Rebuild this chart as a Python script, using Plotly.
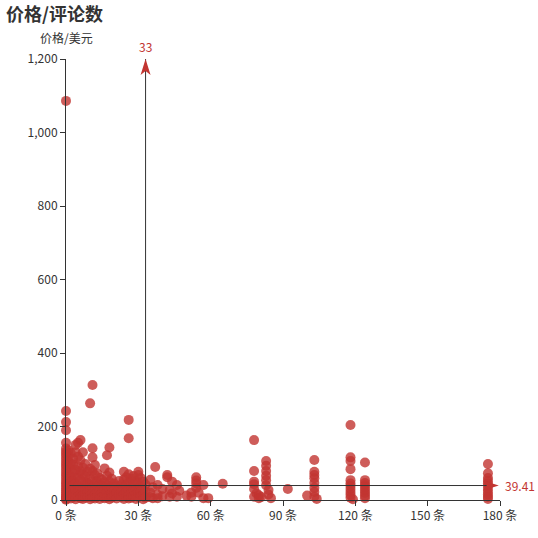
import plotly.graph_objects as go

# ---- data: (review count, price) ----
x_cols = {
    0: [1086, 242, 212, 190, 156, 140, 132, 125, 118, 110, 102, 95, 88, 80, 72, 65, 58, 50, 44, 38, 32, 26, 20, 15, 10, 6, 3, 1],
    1: [135, 120, 105, 90, 70, 55, 42, 30, 18, 8],
    2: [128, 100, 85, 62, 48, 35, 22, 12, 4],
    3: [112, 96, 75, 52, 40, 28, 16, 7],
    4: [150, 130, 82, 60, 45, 25, 11, 2],
    5: [156, 118, 92, 66, 38, 20, 9],
    6: [163, 108, 78, 56, 33, 14, 5],
    7: [130, 88, 70, 44, 27, 12, 3],
    8: [98, 64, 50, 30, 17, 6],
    9: [76, 46, 36, 22, 8],
    10: [263, 85, 58, 40, 24, 10, 2],
    11: [313, 141, 116, 79, 52, 34, 18, 6],
    12: [95, 68, 44, 28, 14, 4],
    13: [72, 50, 36, 20, 9],
    14: [60, 42, 25, 12, 3],
    15: [55, 38, 22, 8],
    16: [86, 48, 30, 15, 5],
    17: [122, 66, 40, 20, 7],
    18: [143, 75, 50, 32, 12, 2],
    19: [58, 35, 18, 6],
    20: [45, 28, 10],
    21: [38, 20, 4],
    22: [52, 30, 12],
    23: [42, 24, 8],
    24: [77, 55, 34, 15, 3],
    25: [62, 40, 22, 9],
    26: [218, 168, 70, 48, 28, 12, 4],
    27: [58, 36, 18, 6],
    28: [65, 44, 26, 10],
    29: [52, 30, 14, 3],
    30: [77, 68, 46, 32, 20, 8],
    31: [60, 38, 22, 10],
    32: [50, 28, 12, 2],
    33: [42, 24, 6],
    35: [55, 20, 8],
    36: [35, 5],
    37: [90],
    38: [41, 14, 5],
    40: [30, 10],
    42: [68, 62],
    43: [27, 9],
    44: [50, 18],
    46: [41, 9],
    47: [25],
    50: [12],
    52: [20, 9],
    54: [62, 53, 45, 33],
    55: [20],
    57: [41, 5],
    59: [5],
    65: [44],
    78: [163, 79, 50, 43, 30, 9],
    79: [18],
    80: [13, 5],
    81: [8],
    83: [106, 93, 79, 66, 54, 40],
    84: [27, 15],
    85: [5],
    92: [30],
    100: [12],
    103: [109, 77, 68, 59, 46, 33, 22, 9],
    104: [3],
    118: [204, 116, 106, 84, 54, 45, 38, 30, 22, 14, 6],
    119: [2],
    124: [102, 54, 46, 40, 33, 26, 19, 12, 5],
    175: [98, 73, 60, 52, 45, 38, 30, 22, 15, 8, 3],
}
reviews = [k for k, v in x_cols.items() for _ in v]
prices = [p for v in x_cols.values() for p in v]

avg_reviews = 33
avg_price = 39.41
x_ticks = [0, 30, 60, 90, 120, 150, 180]
x_tick_labels = [f"{t} 条" for t in x_ticks]
y_ticks = [0, 200, 400, 600, 800, 1000, 1200]
hline_span = [1.5, 179.5]
vline_span = [0, 1200]

RED = "#c23531"
AX = "#333333"
FONT = "Noto Sans CJK SC, Microsoft YaHei, sans-serif"

W, H = 538, 538
ML, MT, MR, MB = 66, 59, 38, 38
PW, PH = W - ML - MR, H - MT - MB

fig = go.Figure()
fig.add_trace(go.Scatter(
    x=reviews, y=prices, mode="markers", cliponaxis=False,
    marker=dict(size=10, color=RED, opacity=0.8, line=dict(width=0)),
    showlegend=False, hoverinfo="x+y",
))

# mark lines
fig.add_shape(type="line", x0=avg_reviews, x1=avg_reviews, y0=vline_span[0], y1=vline_span[1],
              xref="x", yref="y", line=dict(color=AX, width=1))
fig.add_shape(type="line", x0=hline_span[0], x1=hline_span[1] - 2, y0=avg_price, y1=avg_price,
              xref="x", yref="y", line=dict(color=AX, width=1))
# arrowheads (pixel-sized paths anchored at line ends)
fig.add_shape(type="path", xref="x", yref="y", xsizemode="pixel", ysizemode="pixel",
              xanchor=avg_reviews, yanchor=vline_span[1],
              path="M0,0 L5,-16 L0,-12 L-5,-16 Z",
              fillcolor=RED, line=dict(width=0))
fig.add_shape(type="path", xref="x", yref="y", xsizemode="pixel", ysizemode="pixel",
              xanchor=hline_span[1], yanchor=avg_price,
              path="M0,0 L-16,5 L-12,0 L-16,-5 Z",
              fillcolor=RED, line=dict(width=0))
fig.add_annotation(x=avg_reviews, y=vline_span[1], xref="x", yref="y", text=str(avg_reviews),
                   showarrow=False, yshift=13, font=dict(color=RED, size=12, family=FONT))
fig.add_annotation(x=hline_span[1], y=avg_price, xref="x", yref="y", text=f"{avg_price:.2f}",
                   showarrow=False, xanchor="left", xshift=4, font=dict(color=RED, size=12, family=FONT))

# title + axis name
fig.add_annotation(text="<b>价格/评论数</b>", xref="paper", yref="paper",
                   x=-(ML - 4) / PW, y=1 + (MT - 13) / PH, xanchor="left", yanchor="middle",
                   showarrow=False, font=dict(size=18, color=AX, family=FONT))
fig.add_annotation(text="价格/美元", xref="paper", yref="paper",
                   x=0, y=1 + (MT - 38) / PH, xanchor="center", yanchor="middle",
                   showarrow=False, font=dict(size=12, color=AX, family=FONT))

fig.update_layout(
    width=W, height=H, autosize=False,
    margin=dict(l=ML, r=MR, t=MT, b=MB, pad=0),
    paper_bgcolor="white", plot_bgcolor="white",
    font=dict(family=FONT, size=12, color=AX),
    xaxis=dict(range=[0, 180], tickvals=x_ticks, ticktext=x_tick_labels, showgrid=False, zeroline=False,
               showline=True, linecolor=AX, linewidth=1, ticks="outside", ticklen=5,
               tickcolor=AX, tickfont=dict(size=12, color=AX)),
    yaxis=dict(range=[0, 1200], tickvals=y_ticks, tickformat=",d", showgrid=False, zeroline=False,
               showline=True, linecolor=AX, linewidth=1, ticks="outside", ticklen=5,
               tickcolor=AX, tickfont=dict(size=12, color=AX)),
)

fig.write_html("out.html", config={"displayModeBar": False},
               post_script="document.body.style.margin='0px';")
